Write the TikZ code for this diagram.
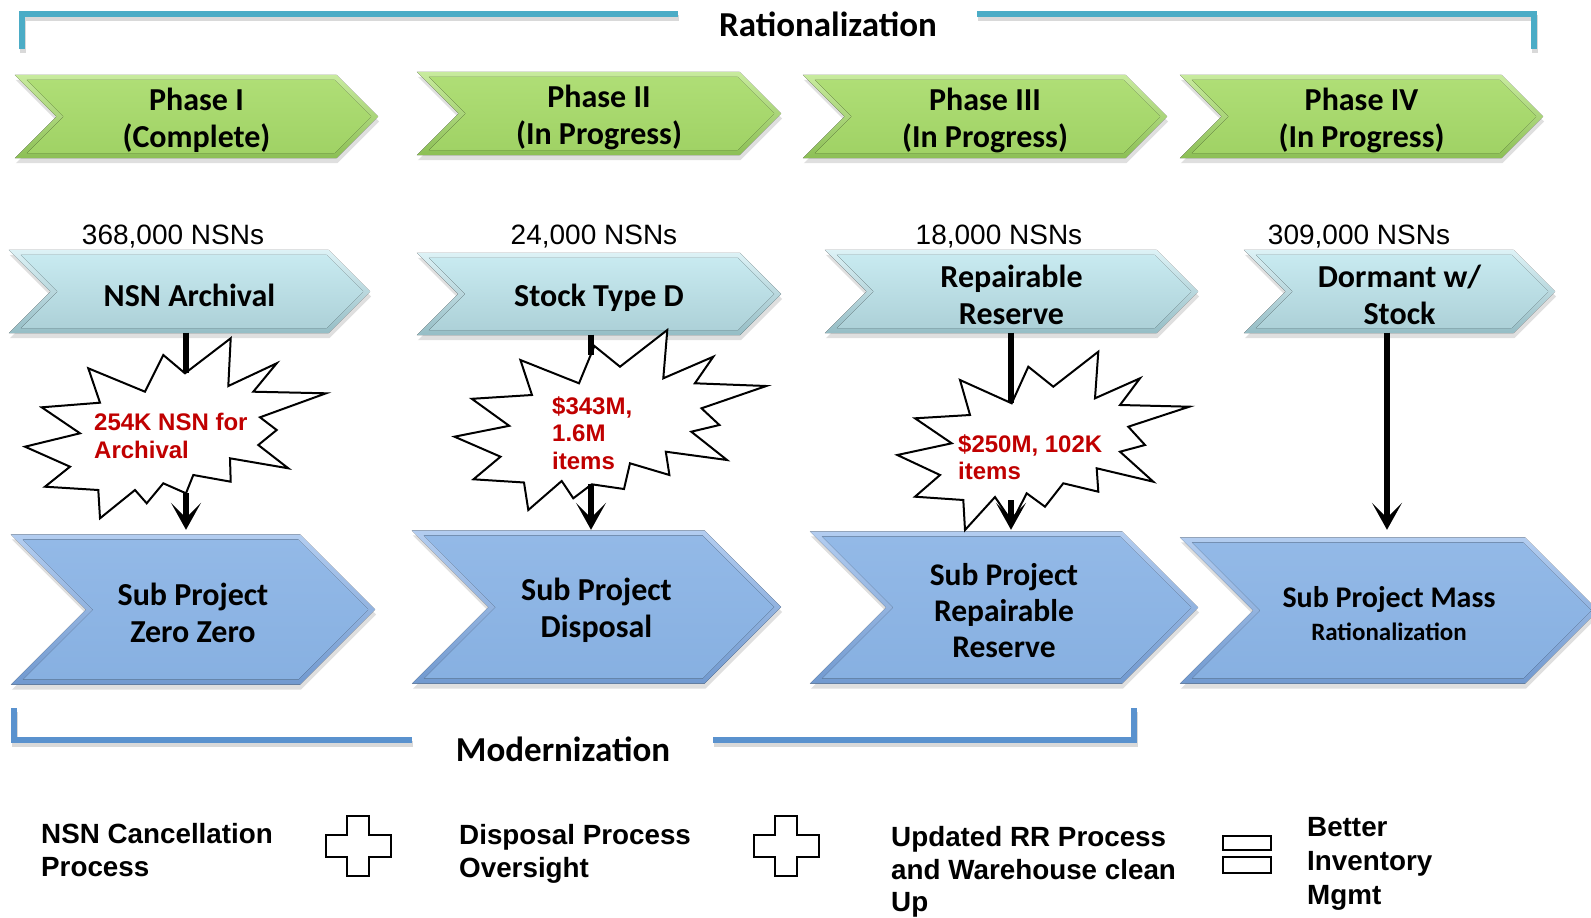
\documentclass[tikz,border=0pt]{standalone}
\usepackage{fontspec}
\setmainfont{Carlito}
\newfontfamily\arialfont{Liberation Sans}
\usetikzlibrary{calc,shadows,arrows.meta,backgrounds}

\definecolor{ratline}{HTML}{4BACC6}
\definecolor{modline}{HTML}{5A92CE}
\definecolor{burstred}{HTML}{C00000}
\definecolor{grnOT}{HTML}{C8EB9E}
\definecolor{grnOB}{HTML}{8CBF55}
\definecolor{grnIT}{HTML}{AFDE76}
\definecolor{grnIB}{HTML}{A0D265}
\definecolor{aquOT}{HTML}{DDF2F6}
\definecolor{aquOB}{HTML}{95BDC5}
\definecolor{aquIT}{HTML}{C8EAF0}
\definecolor{aquIB}{HTML}{ADD1D8}
\definecolor{bluOT}{HTML}{B3CDF0}
\definecolor{bluOB}{HTML}{7199CF}
\definecolor{bluIT}{HTML}{93B9E7}
\definecolor{bluIB}{HTML}{87B0E1}

% Bevelled chevron drawn around a named rectangular node
% #1 node, #2/#3 rim top/bottom colour, #4/#5 face top/bottom colour
\newcommand\drawchev[5]{%
  \fill[drop shadow={opacity=0.25,shadow xshift=1pt,shadow yshift=-5pt},
        top color=#2, bottom color=#3]
    let \p1=($(#1.south west)+(0,3.5pt)$), \p2=($(#1.north east)+(0,3.5pt)$),
        \n1={(\y2-\y1)/2} in
    (\x1,\y2) -- (\x2-\n1,\y2) -- (\x2,\y1+\n1) -- (\x2-\n1,\y1) -- (\x1,\y1)
    -- (\x1+\n1,\y1+\n1) -- cycle;
  \fill[top color=#4, bottom color=#5]
    let \p1=($(#1.south west)+(0,3.5pt)$), \p2=($(#1.north east)+(0,3.5pt)$),
        \n1={(\y2-\y1)/2} in
    (\x1+12,\y2-5) -- (\x2-\n1-2,\y2-5) -- (\x2-7,\y1+\n1) -- (\x2-\n1-2,\y1+5)
    -- (\x1+12,\y1+5) -- (\x1+\n1+7,\y1+\n1) -- cycle;
}

\tikzset{
  chevtxt/.style={rectangle, inner sep=0pt, align=center,
    font=\bfseries\fontsize{32}{37}\selectfont},
  count/.style={inner sep=0pt, font=\arialfont\fontsize{28}{32}\selectfont},
  title/.style={inner sep=0pt, font=\bfseries\fontsize{35}{40}\selectfont},
  bursttext/.style={inner sep=0pt, anchor=west, align=left, text=burstred,
    font=\arialfont\bfseries\fontsize{24}{27.5}\selectfont},
  note/.style={inner sep=0pt, anchor=west, align=left,
    font=\arialfont\bfseries\fontsize{27.8}{32.5}\selectfont},
  burst/.style={draw=black, fill=white, line width=2pt, line join=miter},
  link/.style={line width=5.5pt, black},
  linkhead/.style={link, -{Stealth[length=27pt,width=30pt,inset=15pt]}},
  bracketshade/.style={line width=6pt, black, opacity=0.15},
  symbolbox/.style={draw=black, fill=white, line width=1.8pt},
}

\begin{document}
\begin{tikzpicture}[x=1pt,y=-1pt]
\useasboundingbox (0,0) rectangle (1591,918);
\clip (0,0) rectangle (1591,918);

% ---- brackets and their titles ----
\draw[bracketshade] (23,53) -- (23,18) -- (679,18);
\draw[bracketshade] (978,18) -- (1535,18) -- (1535,53);
\draw[line width=6pt, ratline] (22,49) -- (22,14) -- (678,14);
\draw[line width=6pt, ratline] (977,14) -- (1534,14) -- (1534,49);
\node[title] (rat) at (828,24) {Rationalization};

\draw[bracketshade] (15,712) -- (15,744) -- (413,744);
\draw[bracketshade] (714,744) -- (1135,744) -- (1135,712);
\draw[line width=6pt, modline] (14,708) -- (14,740) -- (412,740);
\draw[line width=6pt, modline] (713,740) -- (1134,740) -- (1134,708);
\node[title] (mod) at (563,749) {Modernization};

% ---- phase row ----
\node[chevtxt, minimum width=363pt, minimum height=83pt] (p1) at (196.5,120) {Phase I\\(Complete)};
\node[chevtxt, minimum width=364pt, minimum height=83pt] (p2) at (599,117) {Phase II\\(In Progress)};
\node[chevtxt, minimum width=364pt, minimum height=83pt] (p3) at (985,120) {Phase III\\(In Progress)};
\node[chevtxt, minimum width=363pt, minimum height=83pt] (p4) at (1361.5,120) {Phase IV\\(In Progress)};

% ---- category row ----
\node[count] (n1) at (173,237) {368,000 NSNs};
\node[count] (n2) at (594,237) {24,000 NSNs};
\node[count] (n3) at (999,237) {18,000 NSNs};
\node[count] (n4) at (1359,237) {309,000 NSNs};

\node[chevtxt, minimum width=361pt, minimum height=83pt] (c1) at (189.5,295) {NSN Archival};
\node[chevtxt, minimum width=364pt, minimum height=82pt] (c2) at (599,297.5) {Stock Type D};
\node[chevtxt, minimum width=373pt, minimum height=83pt] (c3) at (1011.5,295) {Repairable\\Reserve};
\node[chevtxt, minimum width=311pt, minimum height=83pt] (c4) at (1399.5,295) {Dormant w/\\Stock};

% ---- sub project row ----
\node[chevtxt, minimum width=364pt, minimum height=150pt] (s1) at (193,613) {Sub Project\\Zero Zero};
\node[chevtxt, minimum width=369pt, minimum height=153pt] (s2) at (596.5,610.5) {Sub Project\\Disposal};
\node[chevtxt, minimum width=388pt, minimum height=152pt, font=\bfseries\fontsize{31.5}{36}\selectfont] (s3) at (1004,611) {Sub Project\\Repairable\\Reserve};
\node[chevtxt, minimum width=418pt, minimum height=146pt, font=\bfseries\fontsize{30}{33}\selectfont] (s4) at (1389,614) {Sub Project Mass\\{\fontsize{25}{30}\selectfont Rationalization}};

\begin{scope}[on background layer]
  \drawchev{p1}{grnOT}{grnOB}{grnIT}{grnIB}
  \drawchev{p2}{grnOT}{grnOB}{grnIT}{grnIB}
  \drawchev{p3}{grnOT}{grnOB}{grnIT}{grnIB}
  \drawchev{p4}{grnOT}{grnOB}{grnIT}{grnIB}
  \drawchev{c1}{aquOT}{aquOB}{aquIT}{aquIB}
  \drawchev{c2}{aquOT}{aquOB}{aquIT}{aquIB}
  \drawchev{c3}{aquOT}{aquOB}{aquIT}{aquIB}
  \drawchev{c4}{aquOT}{aquOB}{aquIT}{aquIB}
  \drawchev{s1}{bluOT}{bluOB}{bluIT}{bluIB}
  \drawchev{s2}{bluOT}{bluOB}{bluIT}{bluIB}
  \drawchev{s3}{bluOT}{bluOB}{bluIT}{bluIB}
  \drawchev{s4}{bluOT}{bluOB}{bluIT}{bluIB}
\end{scope}

% ---- explosion call-outs ----
\draw[burst] (185,373.3) -- (230.7,338.3) -- (228.3,386) -- (276.7,363.3) -- (253.3,391.7)
  -- (326,393.3) -- (260,417.3) -- (276.7,430) -- (258.3,445) -- (288.3,468.3)
  -- (230,458.3) -- (230.7,481.7) -- (193.3,475) -- (186,493.3) -- (163.3,483.3)
  -- (146.7,503.3) -- (135,490) -- (100,518.3) -- (98.3,490) -- (45,486.7)
  -- (70,466.7) -- (25,446.7) -- (80,433.3) -- (41.7,407.3) -- (100,402.7)
  -- (88.3,368.3) -- (145,391.7) -- (163.3,355) -- cycle;
\node[bursttext] (b1) at (94,436) {254K NSN for\\Archival};

\draw[burst] (520.4,360) -- (579,383.3) -- (594.4,346) -- (620,366.7) -- (667.3,330)
  -- (663.3,378.3) -- (713.3,356.7) -- (694.9,383.3) -- (766.3,386) -- (701.5,408.3)
  -- (719.4,425) -- (691.3,431.7) -- (727,460) -- (665.8,451.7) -- (669.4,475)
  -- (630,463.3) -- (624,489) -- (591.7,484.3) -- (573.3,498.3) -- (561.7,481)
  -- (528.3,510) -- (524,482.5) -- (473.5,479.3) -- (500.5,456.7) -- (454.5,436.7)
  -- (509.2,425.8) -- (471.8,398.8) -- (532,395) -- cycle;
\node[bursttext] (b2) at (552,433) {\$343M,\\1.6M\\items};

\draw[burst] (1011.7,403.3) -- (1028.3,366.7) -- (1053.3,386.7) -- (1098.3,351.7)
  -- (1095,398.3) -- (1140,378.3) -- (1120,405) -- (1189.3,406.7) -- (1128.3,426.7)
  -- (1145,445) -- (1120,451.7) -- (1153.3,481.7) -- (1096.7,468.3) -- (1098.3,491.7)
  -- (1063.3,483.3) -- (1045,506.7) -- (1026.7,493.3) -- (1012,522) -- (995,497)
  -- (965,530) -- (963.3,500) -- (915,496.7) -- (940,475) -- (897.3,455)
  -- (951.7,443.3) -- (915,418.3) -- (970,415) -- (960,380) -- cycle;
\node[bursttext] (b3) at (958,457) {\$250M, 102K\\items};

% ---- connectors ----
\coordinate (in1) at (186,373.3);  \coordinate (out1) at (186,493);
\coordinate (in2) at (591,354.5);  \coordinate (out2) at (591,484);
\coordinate (in3) at (1011,403);   \coordinate (out3) at (1011,500);
\coordinate (col4) at (1387,400);

\draw[link, shorten <=-4pt] (in1 |- c1.south) -- (in1);
\draw[linkhead, shorten >=8pt] (out1) -- (out1 |- s1.north);
\draw[link, shorten <=-4pt] (in2 |- c2.south) -- (in2);
\draw[linkhead, shorten >=4pt] (out2) -- (out2 |- s2.north);
\draw[link, shorten <=-4pt] (in3 |- c3.south) -- (in3);
\draw[linkhead, shorten >=5pt] (out3) -- (out3 |- s3.north);
\draw[linkhead, shorten <=-4pt, shorten >=11pt] (col4 |- c4.south) -- (col4 |- s4.north);

% ---- summary line ----
\node[note] (m1) at (41,850) {NSN Cancellation\\Process};
\draw[symbolbox] (347,816) -- (369,816) -- (369,835) -- (391,835) -- (391,857) -- (369,857)
  -- (369,876) -- (347,876) -- (347,857) -- (326,857) -- (326,835) -- (347,835) -- cycle;
\node[note] (m2) at (459,854) {Disposal Process\\Oversight};
\draw[symbolbox] (775,816) -- (797,816) -- (797,835) -- (819,835) -- (819,857) -- (797,857)
  -- (797,876) -- (775,876) -- (775,857) -- (754,857) -- (754,835) -- (775,835) -- cycle;
\node[note] (m3) at (891,872) {Updated RR Process\\and Warehouse clean\\Up};
\draw[symbolbox] (1223,836) rectangle (1271,850);
\draw[symbolbox] (1223,857) rectangle (1271,873);
\node[note, font=\arialfont\bfseries\fontsize{27.8}{34}\selectfont] (m4) at (1307,864) {Better\\Inventory\\Mgmt};
\end{tikzpicture}
\end{document}
